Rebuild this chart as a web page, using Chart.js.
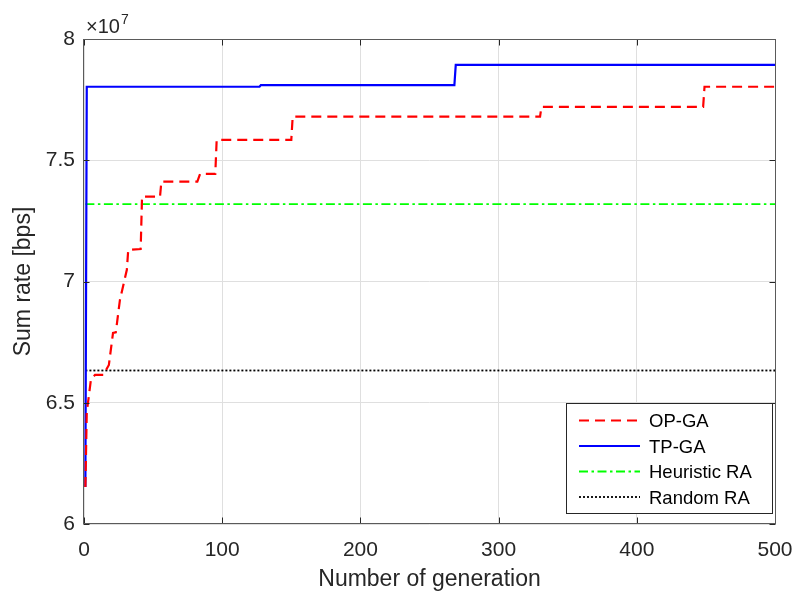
<!DOCTYPE html>
<html>
<head>
<meta charset="utf-8">
<script src="https://cdn.jsdelivr.net/npm/chart.js@4/dist/chart.umd.min.js"></script>
<style>
  html, body { margin: 0; padding: 0; background: #ffffff; }
  #wrap { width: 795px; height: 593px; }
</style>
</head>
<body>
<div id="wrap"><canvas id="c" width="795" height="593"></canvas></div>
<script>
// Sum rate per generation, in units of 10^7 bps
const opGaGen  = [1, 2, 5, 8, 14, 18, 21, 23, 26, 31, 32, 41, 42, 55, 56, 82, 84, 95, 96, 150, 151, 330, 331, 448, 449, 500];
const opGaRate = [6.153, 6.46, 6.595, 6.615, 6.615, 6.656, 6.788, 6.79, 6.924, 7.048, 7.13, 7.134, 7.35, 7.35, 7.412, 7.412, 7.444, 7.444, 7.584, 7.584, 7.68, 7.68, 7.72, 7.72, 7.803, 7.803];

const tpGaGen  = [1, 2, 127, 128, 268, 269, 500];
const tpGaRate = [6.153, 7.803, 7.803, 7.81, 7.81, 7.893, 7.893];

const heuristicGen  = [1, 500];
const heuristicRate = [7.319, 7.319];

const randomGen  = [1, 500];
const randomRate = [6.633, 6.633];

const seriesNames = ['OP-GA', 'TP-GA', 'Heuristic RA', 'Random RA'];

const xTicks = [0, 100, 200, 300, 400, 500];
const yTicks = [6, 6.5, 7, 7.5, 8];
const yExponent = 7;

const FONT = "'Liberation Sans', Arial, Helvetica, sans-serif";
const TEXT = '#262626';

const pts = (xs, ys) => xs.map((g, i) => ({ x: g, y: ys[i] }));

// Inward tick marks and the surrounding box, drawn over the lines
const framePlugin = {
  id: 'frame',
  afterDatasetsDraw(chart) {
    const { ctx, chartArea: a, scales: { x, y } } = chart;
    const L = Math.round(a.left) - 0.5, R = Math.round(a.right) + 0.5;
    const T = Math.round(a.top) + 0.5, B = Math.round(a.bottom) - 0.5;
    const tick = 6;
    ctx.save();
    ctx.strokeStyle = TEXT;
    ctx.lineWidth = 1;
    ctx.beginPath();
    xTicks.forEach(v => {
      const px = Math.round(x.getPixelForValue(v)) + 0.5;
      ctx.moveTo(px, B); ctx.lineTo(px, B - tick);
      ctx.moveTo(px, T); ctx.lineTo(px, T + tick);
    });
    yTicks.forEach(v => {
      const py = Math.round(y.getPixelForValue(v)) + 0.5;
      ctx.moveTo(L, py); ctx.lineTo(L + tick, py);
      ctx.moveTo(R, py); ctx.lineTo(R - tick, py);
    });
    ctx.stroke();
    ctx.strokeStyle = '#5a5a5a';
    ctx.strokeRect(L, T, R - L, B - T);
    ctx.restore();
  },
  afterDraw(chart) {
    const { ctx, chartArea: a } = chart;
    ctx.save();
    // axis exponent above the value axis
    ctx.fillStyle = TEXT;
    ctx.textBaseline = 'alphabetic';
    ctx.textAlign = 'left';
    ctx.font = `20px ${FONT}`;
    const base = '\u00d710';
    ctx.fillText(base, a.left + 2, a.top - 6);
    const w = ctx.measureText(base).width;
    ctx.font = `14px ${FONT}`;
    ctx.fillText(String(yExponent), a.left + 3 + w, a.top - 15);

    // legend box in the lower right of the plot
    const box = { left: a.right - 209, top: a.bottom - 121, width: 206, height: 110 };
    ctx.fillStyle = '#ffffff';
    ctx.fillRect(box.left, box.top, box.width, box.height);
    ctx.strokeStyle = TEXT;
    ctx.lineWidth = 1;
    ctx.strokeRect(box.left + 0.5, box.top + 0.5, box.width, box.height);
    const rowH = 25.5;
    chart.data.datasets.forEach((ds, i) => {
      const cy = box.top + 17.5 + i * rowH;
      ctx.save();
      ctx.strokeStyle = ds.borderColor;
      ctx.lineWidth = ds.borderWidth;
      ctx.setLineDash(ds.borderDash || []);
      ctx.beginPath();
      ctx.moveTo(box.left + 13, cy);
      ctx.lineTo(box.left + 74, cy);
      ctx.stroke();
      ctx.restore();
      ctx.fillStyle = '#000000';
      ctx.font = `18.5px ${FONT}`;
      ctx.textBaseline = 'middle';
      ctx.fillText(ds.label, box.left + 83, cy + 1.5);
    });
    ctx.restore();
  }
};

new Chart(document.getElementById('c'), {
  type: 'line',
  data: {
    datasets: [
      { label: seriesNames[0], data: pts(opGaGen, opGaRate), borderColor: '#ff0000', borderWidth: 2.2, borderDash: [10, 6] },
      { label: seriesNames[1], data: pts(tpGaGen, tpGaRate), borderColor: '#0000ff', borderWidth: 2.2 },
      { label: seriesNames[2], data: pts(heuristicGen, heuristicRate), borderColor: '#00ff00', borderWidth: 1.9, borderDash: [9, 3.5, 2.5, 3.5] },
      { label: seriesNames[3], data: pts(randomGen, randomRate), borderColor: '#000000', borderWidth: 1.8, borderDash: [2, 2] }
    ].map(d => Object.assign(d, { pointRadius: 0, tension: 0, fill: false }))
  },
  options: {
    responsive: false,
    animation: false,
    devicePixelRatio: 1,
    layout: { padding: { top: 39, right: 20, left: 0, bottom: 0 } },
    plugins: { legend: { display: false }, tooltip: { enabled: false } },
    scales: {
      x: {
        type: 'linear', min: 0, max: 500,
        afterBuildTicks: s => { s.ticks = xTicks.map(v => ({ value: v })); },
        afterFit: s => { s.height = 69; s.paddingLeft = 0; s.paddingRight = 0; },
        grid: { color: '#dfdfdf', drawTicks: false },
        border: { display: false },
        ticks: { padding: 14, color: TEXT, font: { family: FONT, size: 21 }, maxRotation: 0, callback: v => String(v) },
        title: { display: true, text: 'Number of generation', color: TEXT, font: { family: FONT, size: 23, lineHeight: 1.15 }, padding: { top: 0, bottom: 0 } }
      },
      y: {
        type: 'linear', min: 6, max: 8,
        afterBuildTicks: s => { s.ticks = yTicks.map(v => ({ value: v })); },
        afterFit: s => { s.width = 84; s.paddingTop = 0; s.paddingBottom = 0; },
        grid: { color: '#dfdfdf', drawTicks: false },
        border: { display: false },
        ticks: { padding: 9, color: TEXT, font: { family: FONT, size: 21 }, callback: v => String(v) },
        title: { display: true, text: 'Sum rate [bps]', color: TEXT, font: { family: FONT, size: 23 }, padding: { top: 10, bottom: 0 } }
      }
    }
  },
  plugins: [framePlugin]
});
</script>
</body>
</html>
